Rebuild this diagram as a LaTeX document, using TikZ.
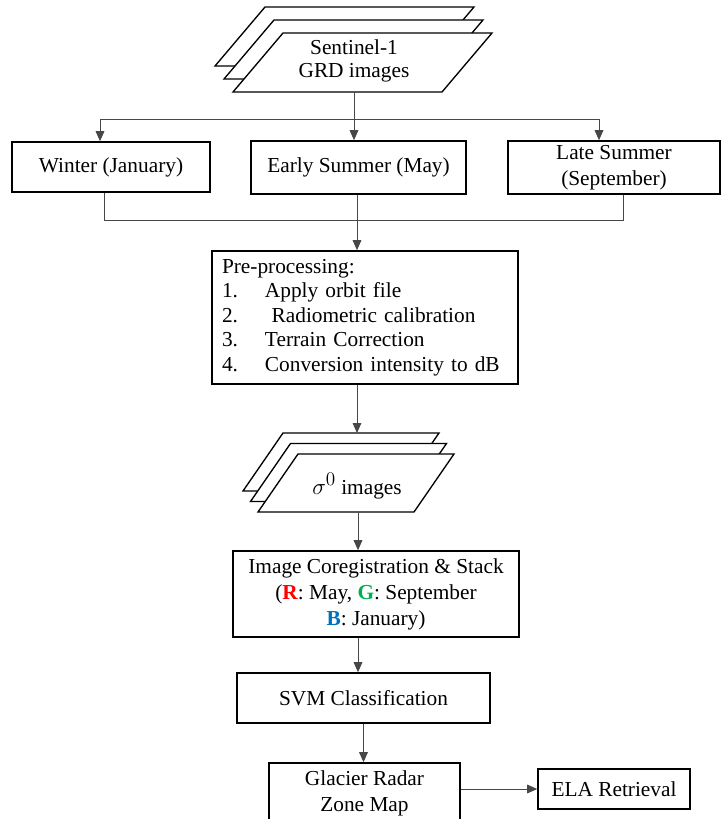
\documentclass[tikz,border=0pt]{standalone}
\usepackage{fontspec}
\setmainfont{Liberation Serif}
\usetikzlibrary{arrows.meta,calc}
\definecolor{bandred}{RGB}{255,0,0}
\definecolor{bandgreen}{RGB}{0,176,80}
\definecolor{bandblue}{RGB}{0,112,192}

\begin{document}
\begin{tikzpicture}[
  x=0.75pt, y=-0.75pt,
  box/.style={draw=black, line width=1.2pt, align=center, inner sep=0pt,
              font=\fontsize{16}{19.5}\selectfont},
  sheet/.style={draw=black, line width=1pt, fill=white, line join=miter},
  label/.style={align=center, inner sep=0pt, font=\fontsize{16}{17}\selectfont},
  link/.style={line width=.75pt, draw=black!72},
  arrow/.style={link, -{Triangle[length=7.5pt,width=6.5pt]}}
]
\useasboundingbox (0,0) rectangle (721,819);

% input image stack
\foreach \dx/\dy in {-18/-26,-9/-13,0/0}
  \draw[sheet] (233+\dx,92+\dy) -- (442+\dx,92+\dy) -- (492+\dx,33+\dy)
    -- (283+\dx,33+\dy) -- cycle;
\node[label] (sentinel) at (354,61) {Sentinel-1\\GRD images};
\coordinate (sentinelfoot) at (354,92);

% acquisition seasons
\node[box, minimum width=148.5pt, minimum height=37.5pt] (winter) at (111,167)
  {Winter (January)};
\node[box, minimum width=161.25pt, minimum height=39.75pt] (early) at (358.5,167.5)
  {Early Summer (May)};
\node[box, minimum width=159pt, minimum height=39.75pt] (late) at (614,167.5)
  {Late Summer\\(September)};

\coordinate (split) at (354,119);
\coordinate (splitW) at (100,119);
\coordinate (splitL) at (599,119);
\draw[link] (sentinelfoot) -- (split);
\draw[link] (splitW) -- (splitL);
\draw[arrow] (splitW) -- (splitW |- winter.north);
\draw[arrow] (split) -- (split |- early.north);
\draw[arrow] (splitL) -- (splitL |- late.north);

\coordinate (merge) at (357,220);
\coordinate (mergeW) at (104,220);
\coordinate (mergeL) at (623,220);
\draw[link] (winter.south -| mergeW) -- (mergeW) -- (mergeL) -- (late.south -| mergeL);
\draw[link] (early.south -| merge) -- (merge);

% processing chain
\node[box, minimum width=229.5pt, minimum height=99.75pt, align=left,
      text width=214.5pt, font=\fontsize{16}{18.4}\selectfont] (pre) at (365,317.5)
  {Pre-processing:\\
   \makebox[32.25pt][l]{1.}Apply orbit file\\
   \makebox[32.25pt][l]{2.}\hspace{5pt}Radiometric calibration\\
   \makebox[32.25pt][l]{3.}Terrain Correction\\
   \makebox[32.25pt][l]{4.}Conversion intensity to dB};
\draw[arrow] (merge) -- (merge |- pre.north);

% backscatter image stack
\foreach \dx/\dy in {-15/-21,-7.5/-10.5,0/0}
  \draw[sheet] (258+\dx,512+\dy) -- (414+\dx,512+\dy) -- (454+\dx,454+\dy)
    -- (298+\dx,454+\dy) -- cycle;
\node[label] (sigma) at (357,486)
  {{\fontsize{19}{19}\selectfont$\sigma^0$} images};
\coordinate (sigmatop) at (357,433);
\coordinate (sigmafoot) at (358,512);
\draw[arrow] (pre.south -| sigmatop) -- (sigmatop);

\node[box, minimum width=214.5pt, minimum height=64.5pt] (coreg) at (376,594)
  {Image Coregistration \& Stack\\
   (\textbf{\color{bandred}R}: May, \textbf{\color{bandgreen}G}: September\\
   \textbf{\color{bandblue}B}: January)};
\draw[arrow] (sigmafoot) -- (sigmafoot |- coreg.north);

\node[box, minimum width=189.75pt, minimum height=37.5pt] (svm) at (363.5,698)
  {SVM Classification};
\draw[arrow] (coreg.south -| sigmafoot) -- (svm.north -| sigmafoot);

\node[box, minimum width=143.25pt, minimum height=45.75pt] (glacier) at (364.5,793.5)
  {Glacier Radar\\Zone Map};
\node[box, minimum width=114pt, minimum height=30pt] (ela) at (614,789)
  {ELA Retrieval};
\draw[arrow] (svm.south) -- (svm.south |- glacier.north);
\draw[arrow] (glacier.east |- ela.west) -- (ela.west);
\end{tikzpicture}
\end{document}
